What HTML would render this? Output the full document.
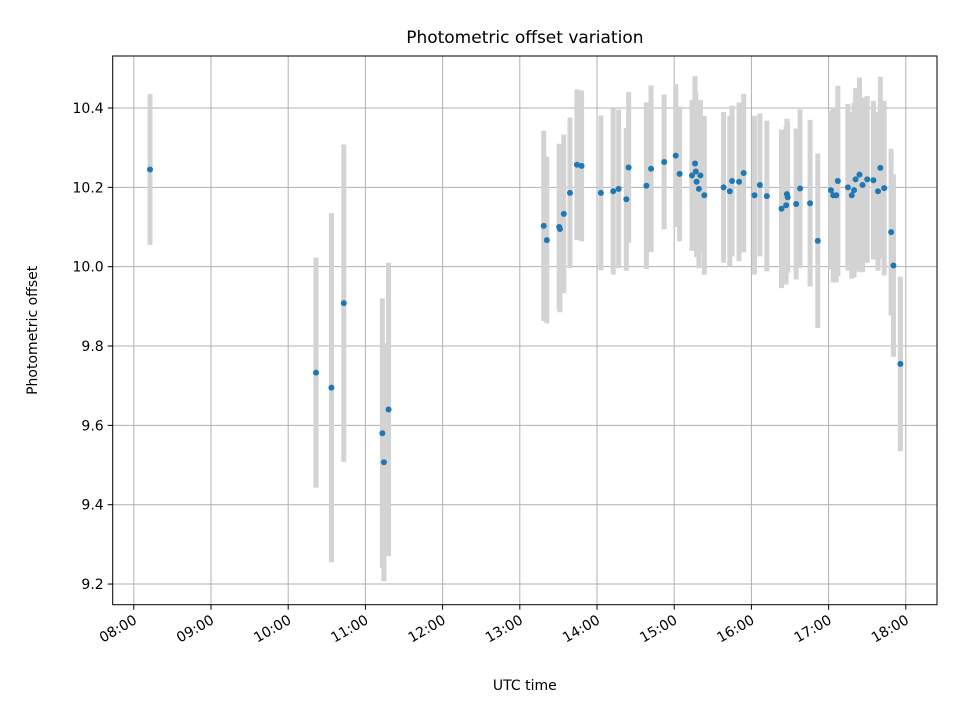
<!DOCTYPE html>
<html><head><meta charset="utf-8"><style>
body{margin:0;background:#fff}
svg text{font-family:"DejaVu Sans","Liberation Sans",sans-serif;fill:#000}
</style></head><body>
<svg id="chart" width="960" height="720" xmlns="http://www.w3.org/2000/svg">
<rect width="960" height="720" fill="#fff"/>
<g id="grid"></g><g id="bars"></g><g id="pts"></g><g id="axes"></g>
</svg>
<script>
const times=[8.21,10.36,10.56,10.72,11.22,11.24,11.30,13.31,13.35,13.51,13.52,13.57,13.65,13.74,13.80,14.05,14.21,14.28,14.38,14.41,14.64,14.70,14.87,15.02,15.07,15.23,15.27,15.28,15.29,15.32,15.34,15.39,15.64,15.72,15.75,15.84,15.90,16.04,16.11,16.20,16.39,16.45,16.46,16.47,16.58,16.63,16.76,16.86,17.03,17.06,17.10,17.12,17.25,17.30,17.33,17.35,17.40,17.44,17.50,17.58,17.64,17.67,17.72,17.81,17.84,17.93];
const values=[10.245,9.733,9.695,9.908,9.58,9.507,9.64,10.103,10.067,10.10,10.095,10.133,10.186,10.257,10.254,10.186,10.19,10.196,10.17,10.25,10.204,10.247,10.264,10.28,10.234,10.23,10.26,10.24,10.214,10.196,10.23,10.18,10.20,10.19,10.216,10.214,10.236,10.18,10.206,10.178,10.146,10.155,10.183,10.175,10.158,10.197,10.16,10.065,10.193,10.18,10.18,10.216,10.20,10.18,10.193,10.22,10.232,10.206,10.22,10.218,10.19,10.249,10.198,10.087,10.003,9.755];
const errors=[0.19,0.29,0.44,0.40,0.34,0.30,0.37,0.24,0.21,0.21,0.21,0.20,0.19,0.19,0.19,0.195,0.21,0.20,0.18,0.19,0.21,0.21,0.17,0.18,0.17,0.19,0.22,0.20,0.19,0.20,0.19,0.20,0.19,0.19,0.19,0.20,0.20,0.20,0.18,0.19,0.20,0.20,0.19,0.19,0.19,0.20,0.21,0.22,0.20,0.22,0.22,0.24,0.21,0.21,0.22,0.23,0.245,0.22,0.21,0.20,0.20,0.23,0.22,0.21,0.23,0.22];
const xTicks=[8,9,10,11,12,13,14,15,16,17,18];
const xTickLabels=["08:00","09:00","10:00","11:00","12:00","13:00","14:00","15:00","16:00","17:00","18:00"];
const yTicks=[9.2,9.4,9.6,9.8,10.0,10.2,10.4];
const yTickLabels=["9.2","9.4","9.6","9.8","10.0","10.2","10.4"];
const L=112.7,R=937,T=56,B=604.7;
const X=t=>133.8+(t-8)*77.2;
const Y=v=>108+(10.4-v)*396.7;
const NS="http://www.w3.org/2000/svg";
function mk(p,tag,a){const e=document.createElementNS(NS,tag);for(const k in a)e.setAttribute(k,a[k]);p.appendChild(e);return e;}
const grid=document.getElementById('grid'),bars=document.getElementById('bars'),pts=document.getElementById('pts'),axes=document.getElementById('axes');
xTicks.forEach((t,i)=>{
 const g=mk(grid,'line',{x1:X(t),x2:X(t),y1:T,y2:B,stroke:'#b0b0b0','stroke-width':1});
 
 
 const tk=mk(axes,'line',{x1:X(t),x2:X(t),y1:B,y2:B+5,stroke:'#000','stroke-width':1});
 
 
 const ax=X(t)+4,ay=B+18;
 const tx=mk(axes,'text',{x:ax,y:ay,'font-size':14,'text-anchor':'end',transform:`rotate(-30 ${ax} ${ay})`});
 tx.textContent=xTickLabels[i];
 
 
});
yTicks.forEach((v,i)=>{
 const g=mk(grid,'line',{x1:L,x2:R,y1:Y(v),y2:Y(v),stroke:'#b0b0b0','stroke-width':1});
 
 
 const tk=mk(axes,'line',{x1:L-5,x2:L,y1:Y(v),y2:Y(v),stroke:'#000','stroke-width':1});
 
 
 const tx=mk(axes,'text',{x:L-9,y:Y(v)+5,'font-size':14,'text-anchor':'end'});
 tx.textContent=yTickLabels[i];
 
 
});
times.forEach((t,i)=>{
 const b=mk(bars,'line',{x1:X(t),x2:X(t),y1:Y(values[i]+errors[i]),y2:Y(values[i]-errors[i]),stroke:'#d3d3d3','stroke-width':5});
 
 
 const c=mk(pts,'circle',{cx:X(t),cy:Y(values[i]),r:3,fill:'#1f77b4'});
 
 
});
const fr=mk(axes,'rect',{x:L,y:T,width:R-L,height:B-T,fill:'none',stroke:'#000','stroke-width':1});


const ti=mk(axes,'text',{x:(L+R)/2,y:43,'font-size':17,'text-anchor':'middle'});
ti.textContent='Photometric offset variation';


const xl=mk(axes,'text',{x:(L+R)/2,y:690,'font-size':14,'text-anchor':'middle'});
xl.textContent='UTC time';


const yl=mk(axes,'text',{x:37,y:(T+B)/2,'font-size':14,'text-anchor':'middle',transform:`rotate(-90 37 ${(T+B)/2})`});
yl.textContent='Photometric offset';


</script>
</body></html>
